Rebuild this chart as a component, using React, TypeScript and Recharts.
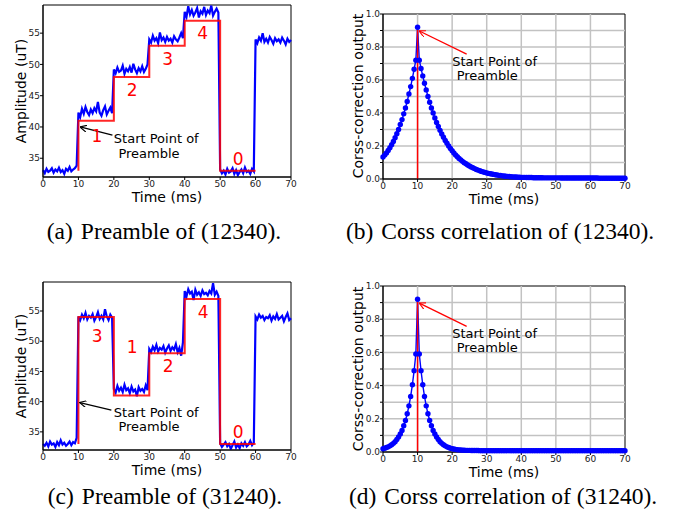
import React from 'react';
import { LineChart, Line, XAxis, YAxis, ReferenceLine, ReferenceDot, ReferenceArea } from 'recharts';

// sample grid of the recordings: one sample every 0.5 ms, 0..70 ms
const timeMs = Array.from({ length: 141 }, (_, i) => i * 0.5);

// (a) measured amplitude, preamble 12340
const preambleA = [
  33.1, 32.6, 33.3, 32.8, 33.0, 33.4, 32.7, 33.2, 32.9, 33.5, 32.8, 33.1, 32.5, 33.3, 33.0, 33.6, 32.9, 33.2, 33.4, 33.8,
  42.3, 41.6, 42.9, 42.1, 43.2, 42.4, 41.9, 42.8, 42.2, 43.0, 42.5, 44.0, 42.3, 41.8, 42.7, 43.3, 42.0, 42.6, 43.1, 42.2,
  49.2, 48.6, 49.5, 48.8, 49.0, 49.8, 48.5, 49.3, 48.9, 49.6, 48.7, 50.1, 49.2, 48.6, 49.4, 48.9, 49.7, 48.8, 49.3, 50.0,
  54.0, 53.5, 54.6, 53.8, 54.2, 53.4, 55.1, 53.9, 54.3, 53.6, 54.4, 53.8, 54.1, 53.5, 54.5, 54.0, 53.7, 54.3, 55.0, 54.2,
  58.4, 57.6, 59.3, 58.0, 58.7, 57.8, 58.3, 59.0, 57.5, 58.5, 58.1, 59.2, 57.9, 58.6, 58.2, 59.4, 57.8, 58.4, 58.9, 58.3,
  33.2, 32.6, 33.0, 32.4, 33.3, 32.7, 32.9, 33.4, 32.5, 33.1, 32.3, 32.8, 33.2, 32.6, 33.5, 32.8, 33.0, 32.5, 33.3, 32.9,
  54.0, 53.4, 54.3, 53.8, 55.0, 53.6, 54.1, 53.5, 54.4, 53.9, 53.3, 54.2, 53.7, 54.0, 53.5, 54.3, 53.8, 53.2, 54.1, 53.6, 53.9,
];

// (c) measured amplitude, preamble 31240
const preambleC = [
  33.0, 32.7, 33.2, 32.6, 33.4, 32.9, 33.1, 32.5, 33.3, 32.8, 33.6, 32.9, 33.2, 32.7, 33.0, 33.4, 32.8, 33.3, 33.1, 34.0,
  54.1, 53.5, 54.4, 53.8, 54.7, 53.6, 54.2, 53.9, 54.5, 53.4, 54.0, 54.8, 53.7, 54.2, 53.6, 55.3, 54.1, 53.5, 54.4, 53.9,
  42.1, 41.5, 42.6, 41.8, 42.3, 41.6, 42.8, 41.9, 42.2, 41.4, 42.5, 41.7, 42.0, 40.9, 42.4, 41.8, 42.1, 41.6, 42.7, 41.9,
  48.7, 48.2, 49.1, 48.5, 49.4, 48.3, 48.9, 48.6, 49.2, 48.1, 48.8, 49.3, 48.4, 49.0, 48.6, 49.5, 48.2, 48.9, 47.6, 49.8,
  58.3, 57.4, 58.6, 57.9, 58.2, 56.8, 58.5, 57.7, 58.1, 57.5, 58.4, 57.8, 58.0, 57.6, 58.3, 57.9, 59.6, 57.7, 58.2, 57.5,
  33.1, 32.5, 32.9, 33.3, 32.6, 33.0, 32.2, 32.8, 33.4, 32.4, 32.9, 32.3, 33.1, 32.7, 33.3, 32.6, 32.9, 33.5, 32.8, 33.2,
  54.1, 53.6, 54.4, 53.9, 54.2, 53.5, 54.0, 53.8, 54.3, 53.4, 54.1, 53.7, 54.5, 53.6, 53.9, 54.2, 53.3, 54.0, 54.6, 53.5, 53.8,
];

// ideal preamble steps (red)
const stepTimes = [10, 10, 20, 20, 30, 30, 40, 40, 50, 50, 60];
const stepA = [33, 41, 41, 48, 48, 53, 53, 57, 57, 33, 33];
const stepC = [33, 54, 54, 41, 41, 48, 48, 57, 57, 33, 33];
const symbolsA = ['1', '2', '3', '4', '0'];
const symbolsC = ['3', '1', '2', '4', '0'];

// (b) cross correlation output, preamble 12340
const corrB = [
  0.133, 0.145, 0.158, 0.173, 0.19, 0.208, 0.228, 0.25, 0.275, 0.3, 0.33, 0.36, 0.395, 0.43, 0.47, 0.515, 0.56, 0.61, 0.665, 0.72,
  0.92, 0.72, 0.67, 0.625, 0.58, 0.54, 0.5, 0.465, 0.43, 0.4, 0.37, 0.343, 0.318, 0.295, 0.273, 0.253, 0.234, 0.217, 0.2, 0.185,
  0.171, 0.158, 0.146, 0.135, 0.125, 0.116, 0.107, 0.099, 0.092, 0.085, 0.079, 0.073, 0.068, 0.063, 0.058, 0.054, 0.05, 0.046, 0.043, 0.04,
  0.037, 0.034, 0.032, 0.03, 0.028, 0.026, 0.024, 0.022, 0.021, 0.019, 0.018, 0.017, 0.016, 0.015, 0.014, 0.013, 0.012, 0.012, 0.011, 0.011,
  0.01, 0.01, 0.01, 0.009, 0.009, 0.009, 0.009, 0.008, 0.008, 0.008, 0.008, 0.008, 0.008, 0.007, 0.007, 0.007, 0.007, 0.007, 0.007, 0.007,
  0.007, 0.007, 0.007, 0.006, 0.006, 0.006, 0.006, 0.006, 0.006, 0.006, 0.006, 0.006, 0.006, 0.006, 0.006, 0.006, 0.006, 0.006, 0.006, 0.006,
  0.006, 0.006, 0.006, 0.006, 0.006, 0.005, 0.005, 0.005, 0.005, 0.005, 0.005, 0.005, 0.005, 0.005, 0.005, 0.005, 0.005, 0.005, 0.005, 0.005, 0.005,
];

// (d) cross correlation output, preamble 31240
const corrD = [
  0.02, 0.023, 0.027, 0.031, 0.037, 0.044, 0.052, 0.062, 0.075, 0.09, 0.108, 0.13, 0.158, 0.19, 0.23, 0.278, 0.335, 0.405, 0.49, 0.59,
  0.92, 0.59, 0.49, 0.405, 0.335, 0.278, 0.23, 0.19, 0.158, 0.13, 0.108, 0.09, 0.075, 0.062, 0.052, 0.044, 0.037, 0.031, 0.027, 0.023,
  0.02, 0.018, 0.016, 0.014, 0.013, 0.012, 0.011, 0.011, 0.01, 0.01, 0.01, 0.009, 0.009, 0.009, 0.009, 0.009, 0.008, 0.008, 0.008, 0.008,
  0.008, 0.008, 0.008, 0.008, 0.008, 0.008, 0.008, 0.008, 0.008, 0.008, 0.008, 0.008, 0.008, 0.008, 0.008, 0.008, 0.008, 0.008, 0.008, 0.008,
  0.008, 0.008, 0.008, 0.008, 0.008, 0.008, 0.008, 0.008, 0.008, 0.008, 0.008, 0.008, 0.008, 0.008, 0.008, 0.008, 0.008, 0.008, 0.008, 0.008,
  0.008, 0.008, 0.008, 0.008, 0.008, 0.008, 0.008, 0.008, 0.008, 0.008, 0.008, 0.008, 0.008, 0.008, 0.008, 0.008, 0.008, 0.008, 0.008, 0.008,
  0.008, 0.008, 0.008, 0.008, 0.008, 0.008, 0.008, 0.008, 0.008, 0.008, 0.008, 0.008, 0.008, 0.008, 0.008, 0.008, 0.008, 0.008, 0.008, 0.008, 0.008,
];

const timeTicks = [0, 10, 20, 30, 40, 50, 60, 70];
const ampTicks = [35, 40, 45, 50, 55];
const corrTicks = [0, 0.1, 0.2, 0.3, 0.4, 0.5, 0.6, 0.7, 0.8, 0.9, 1.0];
const corrGrid = [0.1, 0.2, 0.3, 0.4, 0.5, 0.6, 0.7, 0.8, 0.9];
const timeGrid = [10, 20, 30, 40, 50, 60];

const FONT = '"DejaVu Sans", sans-serif';
const SERIF = '"Liberation Serif", serif';
const YW = 30; // y axis band
const XH = 20; // x axis band

// page box of each chart and its plot rectangle
const boxA = { x: 0, y: 0, w: 339, h: 262, l: 43, t: 5, r: 291, b: 177 };
const boxB = { x: 339, y: 0, w: 339, h: 262, l: 383, t: 14, r: 625, b: 179 };
const boxC = { x: 0, y: 262, w: 339, h: 259, l: 43, t: 282, r: 291, b: 450 };
const boxD = { x: 339, y: 262, w: 339, h: 259, l: 383, t: 286, r: 625, b: 452 };

const marginOf = (b: any) => ({ left: b.l - b.x - YW, top: b.t - b.y, right: b.x + b.w - b.r, bottom: b.y + b.h - b.b - XH });

const textShape = (label: string, color: string, size: number, anchor: string) => (p: any) => (
  <text x={p.cx} y={p.cy} fill={color} fontSize={size} fontFamily={FONT} textAnchor={anchor} dominantBaseline="central">
    {label}
  </text>
);

const arrowShape = (color: string, marker: string) => (p: any) => (
  <line x1={p.x1} y1={p.y1} x2={p.x2} y2={p.y2} stroke={color} strokeWidth={1.3} markerEnd={`url(#${marker})`} />
);

const tickStyle = { fill: '#222', fontSize: 9, fontFamily: FONT };

function PreamblePanel({ box, samples, steps, symbols, spots, yMax, arrow }: any) {
  const data = timeMs.map((t, i) => ({ t, v: samples[i] }));
  const stepData = stepTimes.map((t, i) => ({ t, v: steps[i] }));
  return (
    <div style={{ position: 'absolute', left: box.x, top: box.y }}>
      <LineChart width={box.w} height={box.h} margin={marginOf(box)}>
        <XAxis type="number" dataKey="t" domain={[0, 70]} ticks={timeTicks} interval={0} height={XH} tickSize={3} tickMargin={1}
          tick={tickStyle} tickLine={{ stroke: '#000' }} axisLine={{ stroke: '#000' }} />
        <YAxis type="number" domain={[32, yMax]} ticks={ampTicks} interval={0} width={YW} tickSize={3} tickMargin={0} allowDataOverflow
          tick={tickStyle} tickLine={{ stroke: '#000' }} axisLine={{ stroke: '#000' }} />
        <ReferenceArea x1={0} x2={70} y1={32} y2={yMax} fill="none" stroke="#000" strokeWidth={1} />
        <Line data={data} dataKey="v" stroke="#0000ff" strokeWidth={2.2} dot={false} activeDot={false} isAnimationActive={false} />
        <Line data={stepData} dataKey="v" stroke="#ff0000" strokeOpacity={0.85} strokeWidth={2} dot={false} activeDot={false} isAnimationActive={false} />
        {symbols.map((s: string, i: number) => (
          <ReferenceDot key={s + i} x={spots[i][0]} y={spots[i][1]} r={1} shape={textShape(s, '#ff0000', 17, 'middle')} />
        ))}
        <ReferenceLine segment={[{ x: arrow.tail[0], y: arrow.tail[1] }, { x: arrow.head[0], y: arrow.head[1] }]} shape={arrowShape('#000', 'arrK')} />
        <ReferenceDot x={20} y={arrow.text[0]} r={1} shape={textShape('Start Point of', '#000', 13, 'start')} />
        <ReferenceDot x={21.3} y={arrow.text[1]} r={1} shape={textShape('Preamble', '#000', 13, 'start')} />
      </LineChart>
    </div>
  );
}

function CorrPanel({ box, values }: any) {
  const data = timeMs.map((t, i) => ({ t, v: values[i] }));
  const peak = Math.max(...values);
  const peakT = timeMs[values.indexOf(peak)];
  return (
    <div style={{ position: 'absolute', left: box.x, top: box.y }}>
      <LineChart width={box.w} height={box.h} margin={marginOf(box)}>
        <XAxis type="number" dataKey="t" domain={[0, 70]} ticks={timeTicks} interval={0} height={XH} tickSize={3} tickMargin={1}
          tick={tickStyle} tickLine={{ stroke: '#000' }} axisLine={{ stroke: '#000' }} />
        <YAxis type="number" domain={[0, 1]} ticks={corrTicks} interval={0} width={YW} tickSize={3} tickMargin={0}
          tickFormatter={(v: number) => (Math.round(v * 10) % 2 === 0 ? v.toFixed(1) : '')}
          tick={tickStyle} tickLine={{ stroke: '#000' }} axisLine={{ stroke: '#000' }} />
        {corrGrid.map((g) => (
          <ReferenceLine key={'h' + g} y={g} stroke="#c2c2c2" strokeWidth={1.5} />
        ))}
        {timeGrid.map((g) => (
          <ReferenceLine key={'v' + g} x={g} stroke="#c2c2c2" strokeWidth={1.5} />
        ))}
        <ReferenceArea x1={0} x2={70} y1={0} y2={1} fill="none" stroke="#000" strokeWidth={1} />
        <Line data={data} dataKey="v" stroke="#0000ff" strokeWidth={1.4} dot={{ r: 2.7, fill: '#0000ff', stroke: 'none' }} activeDot={false} isAnimationActive={false} />
        <ReferenceLine segment={[{ x: peakT, y: 0 }, { x: peakT, y: peak }]} stroke="#ff0000" strokeWidth={1.5} />
        <ReferenceLine segment={[{ x: 24.2, y: 0.757 }, { x: 10.5, y: 0.897 }]} shape={arrowShape('#ff0000', 'arrR')} />
        <ReferenceDot x={20} y={0.715} r={1} shape={textShape('Start Point of', '#000', 13, 'start')} />
        <ReferenceDot x={21.3} y={0.628} r={1} shape={textShape('Preamble', '#000', 13, 'start')} />
      </LineChart>
    </div>
  );
}

function Labels() {
  const yLab = (x: number, y: number, s: string) => (
    <text x={x} y={y} transform={`rotate(-90 ${x} ${y})`} textAnchor="middle" dominantBaseline="central" fontSize={14} fontFamily={FONT} fill="#000">{s}</text>
  );
  const xLab = (x: number, y: number) => (
    <text x={x} y={y} textAnchor="middle" fontSize={14} fontFamily={FONT} fill="#000">Time (ms)</text>
  );
  const cap = (x: number, y: number, tag: string, s: string) => (
    <text x={x} y={y} textAnchor="middle" fontSize={23.5} fontFamily={SERIF} fill="#000">
      {tag}<tspan dx={8}>{s}</tspan>
    </text>
  );
  return (
    <svg width={678} height={521} style={{ position: 'absolute', left: 0, top: 0 }}>
      <defs>
        <marker id="arrK" viewBox="0 0 10 10" refX="9.5" refY="5" markerWidth="7" markerHeight="7" markerUnits="userSpaceOnUse" orient="auto">
          <path d="M0,0 L10,5 L0,10" fill="none" stroke="#000" strokeWidth="1.6" />
        </marker>
        <marker id="arrR" viewBox="0 0 10 10" refX="9.5" refY="5" markerWidth="7" markerHeight="7" markerUnits="userSpaceOnUse" orient="auto">
          <path d="M0,0 L10,5 L0,10" fill="none" stroke="#ff0000" strokeWidth="1.6" />
        </marker>
      </defs>
      {yLab(21, 91, 'Amplitude (uT)')}
      {yLab(21, 366, 'Amplitude (uT)')}
      {yLab(358, 96, 'Corss-correction output')}
      {yLab(358, 369, 'Corss-correction output')}
      {xLab(167, 202)}
      {xLab(504, 204)}
      {xLab(167, 475)}
      {xLab(504, 477)}
      {cap(164, 239, '(a)', 'Preamble of (12340).')}
      {cap(500, 239, '(b)', 'Corss correlation of (12340).')}
      {cap(165, 504, '(c)', 'Preamble of (31240).')}
      {cap(503, 504, '(d)', 'Corss correlation of (31240).')}
    </svg>
  );
}

export default function App() {
  return (
    <div style={{ position: 'absolute', left: 0, top: 0, width: 678, height: 521, background: '#fff' }}>
      <Labels />
      <PreamblePanel
        box={boxA} samples={preambleA} steps={stepA} symbols={symbolsA} yMax={59.5}
        spots={[[15.2, 38.6], [25.2, 45.9], [35.2, 50.9], [45.1, 55.0], [55.1, 34.95]]}
        arrow={{ tail: [19.6, 38.7], head: [10.5, 40.0], text: [38.2, 35.7] }}
      />
      <CorrPanel box={boxB} values={corrB} />
      <PreamblePanel
        box={boxC} samples={preambleC} steps={stepC} symbols={symbolsC} yMax={59.8}
        spots={[[15.3, 50.9], [25.2, 49.0], [35.3, 45.9], [45.2, 54.9], [55.1, 34.9]]}
        arrow={{ tail: [19.3, 38.6], head: [10.4, 39.85], text: [38.2, 35.9] }}
      />
      <CorrPanel box={boxD} values={corrD} />
    </div>
  );
}
